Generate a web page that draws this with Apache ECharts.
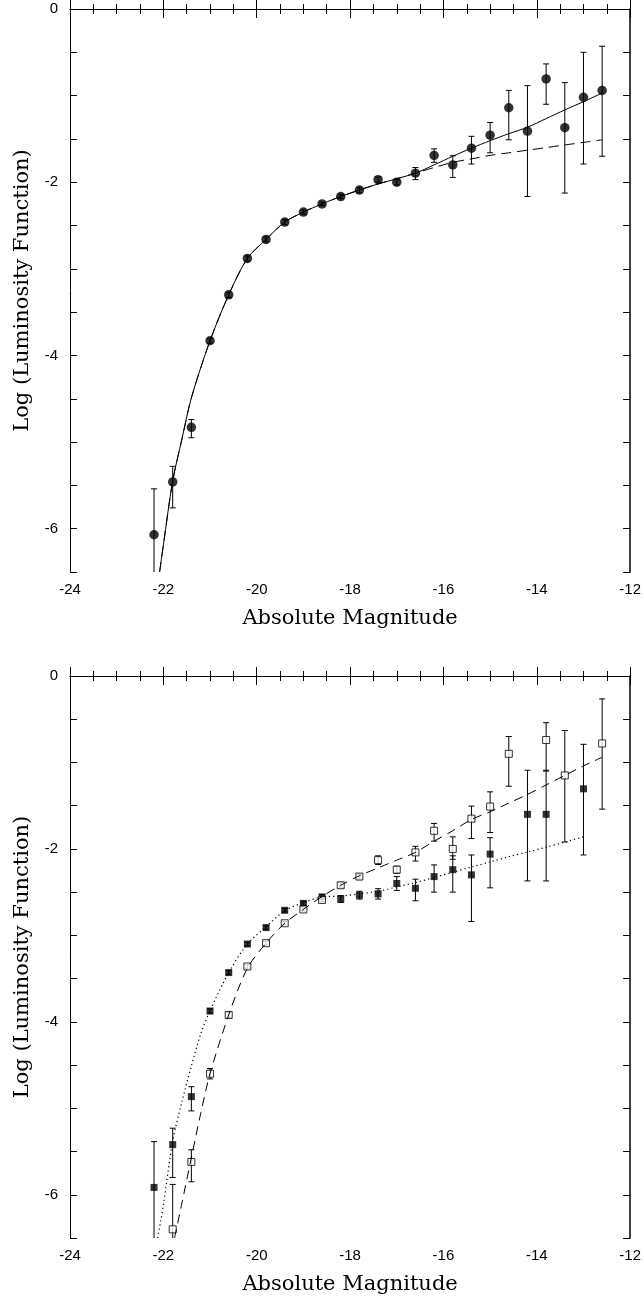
<!DOCTYPE html>
<html>
<head>
<meta charset="utf-8">
<title>Luminosity Function</title>
<script src="https://cdn.jsdelivr.net/npm/echarts@6/dist/echarts.min.js"></script>
<style>
  html, body { margin: 0; padding: 0; background: #fff; }
  #chart { width: 644px; height: 1296px; }
</style>
</head>
<body>
<div id="chart"></div>
<script>
// 上图：数据点 (实心圆)
const magTop = [-22.2, -21.8, -21.4, -21.0, -20.6, -20.2, -19.8, -19.4, -19.0, -18.6, -18.2, -17.8, -17.4, -17.0, -16.6, -16.2, -15.8, -15.4, -15.0, -14.6, -14.2, -13.8, -13.4, -13.0, -12.6]
const lfTop = [-6.07, -5.46, -4.83, -3.83, -3.30, -2.88, -2.66, -2.46, -2.345, -2.25, -2.165, -2.09, -1.97, -2.00, -1.895, -1.69, -1.80, -1.607, -1.457, -1.14, -1.41, -0.807, -1.37, -1.02, -0.94]
const upTop = [-5.54, -5.28, -4.74, -3.80, -3.27, -2.85, -2.63, -2.43, -2.32, -2.23, -2.14, -2.06, -1.94, -1.97, -1.83, -1.615, -1.695, -1.47, -1.31, -0.94, -0.885, -0.634, -0.85, -0.50, -0.43]
const loTop = [-7.2, -5.76, -4.95, -3.86, -3.33, -2.91, -2.69, -2.49, -2.37, -2.27, -2.19, -2.12, -2.00, -2.03, -1.97, -1.77, -1.945, -1.79, -1.66, -1.51, -2.165, -1.10, -2.125, -1.79, -1.70]

// 上图：拟合曲线 (实线 / 虚线)
const fitMagTop = [-22.08, -22.0, -21.8, -21.6, -21.4, -21.0, -20.6, -20.2, -19.8, -19.4, -19.0, -18.6, -18.2, -17.8, -17.4, -17.0, -16.6, -16.2, -15.8, -15.4, -15.0, -14.6, -14.2, -13.8, -13.4, -13.0, -12.6]
const fitSolidTop = [-6.5, -6.19, -5.45, -4.96, -4.49, -3.83, -3.30, -2.88, -2.66, -2.46, -2.345, -2.25, -2.165, -2.09, -2.02, -1.96, -1.895, -1.80, -1.70, -1.607, -1.52, -1.44, -1.365, -1.265, -1.165, -1.07, -0.97]
const fitDashTop = [-6.5, -6.19, -5.45, -4.96, -4.49, -3.83, -3.30, -2.88, -2.66, -2.46, -2.345, -2.25, -2.165, -2.09, -2.02, -1.96, -1.895, -1.83, -1.77, -1.73, -1.69, -1.66, -1.63, -1.60, -1.57, -1.54, -1.51]

// 下图：实心方块
const magFill = [-22.2, -21.8, -21.4, -21.0, -20.6, -20.2, -19.8, -19.4, -19.0, -18.6, -18.2, -17.8, -17.4, -17.0, -16.6, -16.2, -15.8, -15.4, -15.0, -14.2, -13.8, -13.0]
const lfFill = [-5.915, -5.42, -4.865, -3.875, -3.43, -3.10, -2.91, -2.71, -2.63, -2.555, -2.58, -2.535, -2.52, -2.40, -2.455, -2.32, -2.24, -2.30, -2.06, -1.60, -1.60, -1.305]
const upFill = [-5.385, -5.23, -4.75, -3.85, -3.41, -3.08, -2.89, -2.69, -2.61, -2.53, -2.54, -2.49, -2.46, -2.32, -2.35, -2.185, -2.08, -2.07, -1.87, -1.09, -1.09, -0.79]
const loFill = [-7.2, -5.80, -5.03, -3.90, -3.45, -3.12, -2.93, -2.73, -2.65, -2.58, -2.62, -2.58, -2.58, -2.48, -2.60, -2.50, -2.50, -2.84, -2.45, -2.37, -2.37, -2.07]

// 下图：空心方块
const magOpen = [-21.8, -21.4, -21.0, -20.6, -20.2, -19.8, -19.4, -19.0, -18.6, -18.2, -17.8, -17.4, -17.0, -16.6, -16.2, -15.8, -15.4, -15.0, -14.6, -13.8, -13.4, -12.6]
const lfOpen = [-6.40, -5.62, -4.60, -3.92, -3.36, -3.09, -2.86, -2.70, -2.59, -2.42, -2.32, -2.13, -2.24, -2.04, -1.79, -2.00, -1.65, -1.51, -0.90, -0.74, -1.15, -0.78]
const upOpen = [-5.88, -5.48, -4.54, -3.89, -3.34, -3.07, -2.84, -2.68, -2.57, -2.39, -2.29, -2.08, -2.20, -1.97, -1.705, -1.86, -1.505, -1.34, -0.70, -0.54, -0.63, -0.265]
const loOpen = [-7.2, -5.85, -4.66, -3.95, -3.38, -3.11, -2.88, -2.72, -2.61, -2.45, -2.35, -2.18, -2.28, -2.14, -1.91, -2.12, -1.88, -1.81, -1.275, -1.10, -1.92, -1.54]

// 下图：拟合曲线 (点线 / 虚线)
const fitMagDot = [-22.12, -22.0, -21.8, -21.6, -21.4, -21.2, -21.0, -20.6, -20.2, -19.8, -19.4, -19.0, -18.6, -18.2, -17.8, -17.4, -17.0, -16.6, -16.2, -15.8, -15.4, -15.0, -14.6, -14.2, -13.8, -13.4, -13.0]
const fitDot = [-6.5, -6.12, -5.38, -4.92, -4.51, -4.14, -3.87, -3.43, -3.10, -2.90, -2.715, -2.62, -2.555, -2.545, -2.52, -2.49, -2.44, -2.39, -2.33, -2.27, -2.21, -2.15, -2.09, -2.035, -1.98, -1.92, -1.86]
const fitMagDash = [-21.76, -21.6, -21.4, -21.2, -21.0, -20.6, -20.2, -19.8, -19.4, -19.0, -18.6, -18.2, -17.8, -17.4, -17.0, -16.6, -16.2, -15.8, -15.4, -15.0, -14.6, -14.2, -13.8, -13.4, -13.0, -12.6]
const fitDash = [-6.5, -6.09, -5.57, -5.06, -4.60, -3.92, -3.38, -3.09, -2.86, -2.70, -2.55, -2.42, -2.31, -2.22, -2.13, -2.04, -1.91, -1.79, -1.66, -1.57, -1.47, -1.37, -1.26, -1.15, -1.04, -0.94]

const pair = (xs, ys) => xs.map((x, i) => [x, ys[i]])
const triple = (xs, lo, hi) => xs.map((x, i) => [x, lo[i], hi[i]])

const labelFont = 'Liberation Sans, Arial, sans-serif'
const titleFont = 'DejaVu Serif, serif'

// 误差棒
const renderErr = (params, api) => {
  const cs = params.coordSys
  const bottom = cs.y + cs.height
  const top = cs.y
  const x = api.value(0)
  const p1 = api.coord([x, api.value(2)])
  const p2 = api.coord([x, api.value(1)])
  const w = 3
  const style = { stroke: '#000', lineWidth: 1 }
  const children = []
  let yTop = p1[1], yBot = p2[1]
  const capTop = yTop >= top
  const capBot = yBot <= bottom
  yTop = Math.max(yTop, top)
  yBot = Math.min(yBot, bottom)
  children.push({ type: 'line', shape: { x1: p1[0], y1: yTop, x2: p1[0], y2: yBot }, style })
  if (capTop) children.push({ type: 'line', shape: { x1: p1[0] - w, y1: yTop, x2: p1[0] + w, y2: yTop }, style })
  if (capBot) children.push({ type: 'line', shape: { x1: p2[0] - w, y1: yBot, x2: p2[0] + w, y2: yBot }, style })
  return { type: 'group', children }
}

const makeAxes = (idx) => {
  const axisLine = { show: true, lineStyle: { color: '#000', width: 1 } }
  const xBase = {
    type: 'value', gridIndex: idx, min: -24, max: -12, interval: 2,
    axisLine, splitLine: { show: false },
    axisTick: { show: true, inside: true, length: 9, lineStyle: { color: '#000' } },
    minorTick: { show: true, splitNumber: 4, length: 5, lineStyle: { color: '#000' } }
  }
  const yBase = {
    type: 'value', gridIndex: idx, min: -6.5, max: 0, interval: 0.5,
    axisLine, splitLine: { show: false },
    axisTick: { show: true, inside: true, length: 7, lineStyle: { color: '#000' } }
  }
  return {
    x: [
      Object.assign({}, xBase, {
        position: 'bottom',
        axisLabel: { color: '#000', fontSize: 15, fontFamily: labelFont, margin: 10 },
        name: 'Absolute Magnitude', nameLocation: 'middle', nameGap: 36,
        nameTextStyle: { color: '#000', fontSize: 21, fontFamily: titleFont }
      }),
      Object.assign({}, xBase, { position: 'top', axisLabel: { show: false } })
    ],
    y: [
      Object.assign({}, yBase, {
        position: 'left',
        axisLabel: {
          color: '#000', fontSize: 15, fontFamily: labelFont, margin: 12,
          formatter: v => (Math.abs(v % 2) < 1e-9 ? String(v === 0 ? 0 : v) : '')
        },
        name: 'Log (Luminosity Function)', nameLocation: 'middle', nameGap: 37,
        nameTextStyle: { color: '#000', fontSize: 21, fontFamily: titleFont }
      }),
      Object.assign({}, yBase, {
        position: 'right', axisLabel: { show: false },
        axisLine: { show: true, lineStyle: { color: '#000', width: 1.5 } }
      })
    ]
  }
}

const axTop = makeAxes(0)
const axBot = makeAxes(1)

const chart = echarts.init(document.getElementById('chart'), null, { renderer: 'canvas' })

const option = {
  animation: false,
  backgroundColor: '#fff',
  grid: [
    { left: 70, right: 10, top: 9, height: 563 },
    { left: 70, right: 10, top: 676, height: 564 }
  ],
  xAxis: [...axTop.x, ...axBot.x],
  yAxis: [...axTop.y, ...axBot.y],
  series: [
    // 上图
    {
      type: 'custom', xAxisIndex: 0, yAxisIndex: 0, renderItem: renderErr,
      data: triple(magTop, loTop, upTop), z: 2
    },
    {
      type: 'line', xAxisIndex: 0, yAxisIndex: 0, data: pair(fitMagTop, fitDashTop),
      showSymbol: false, smooth: 0.3, lineStyle: { color: '#000', width: 1, type: [10, 6] }, z: 3
    },
    {
      type: 'line', xAxisIndex: 0, yAxisIndex: 0, data: pair(fitMagTop, fitSolidTop),
      showSymbol: false, smooth: 0.3, lineStyle: { color: '#000', width: 1 }, z: 3
    },
    {
      type: 'scatter', xAxisIndex: 0, yAxisIndex: 0, data: pair(magTop, lfTop),
      symbol: 'circle', symbolSize: 9.5, itemStyle: { color: '#000' }, z: 4
    },
    // 下图
    {
      type: 'custom', xAxisIndex: 2, yAxisIndex: 2, renderItem: renderErr,
      data: triple(magFill, loFill, upFill), z: 2
    },
    {
      type: 'custom', xAxisIndex: 2, yAxisIndex: 2, renderItem: renderErr,
      data: triple(magOpen, loOpen, upOpen), z: 2
    },
    {
      type: 'scatter', xAxisIndex: 2, yAxisIndex: 2, data: pair(magFill, lfFill),
      symbol: 'rect', symbolSize: 7, itemStyle: { color: '#000' }, z: 3
    },
    {
      type: 'scatter', xAxisIndex: 2, yAxisIndex: 2, data: pair(magOpen, lfOpen),
      symbol: 'rect', symbolSize: 7,
      itemStyle: { color: '#fff', borderColor: '#000', borderWidth: 1 }, z: 3
    },
    {
      type: 'line', xAxisIndex: 2, yAxisIndex: 2, data: pair(fitMagDot, fitDot),
      showSymbol: false, smooth: 0.3, lineStyle: { color: '#000', width: 1.2, type: [1.2, 3] }, z: 4
    },
    {
      type: 'line', xAxisIndex: 2, yAxisIndex: 2, data: pair(fitMagDash, fitDash),
      showSymbol: false, smooth: 0.3, lineStyle: { color: '#000', width: 1, type: [9, 6] }, z: 4
    }
  ]
}

chart.setOption(option)
</script>
</body>
</html>
